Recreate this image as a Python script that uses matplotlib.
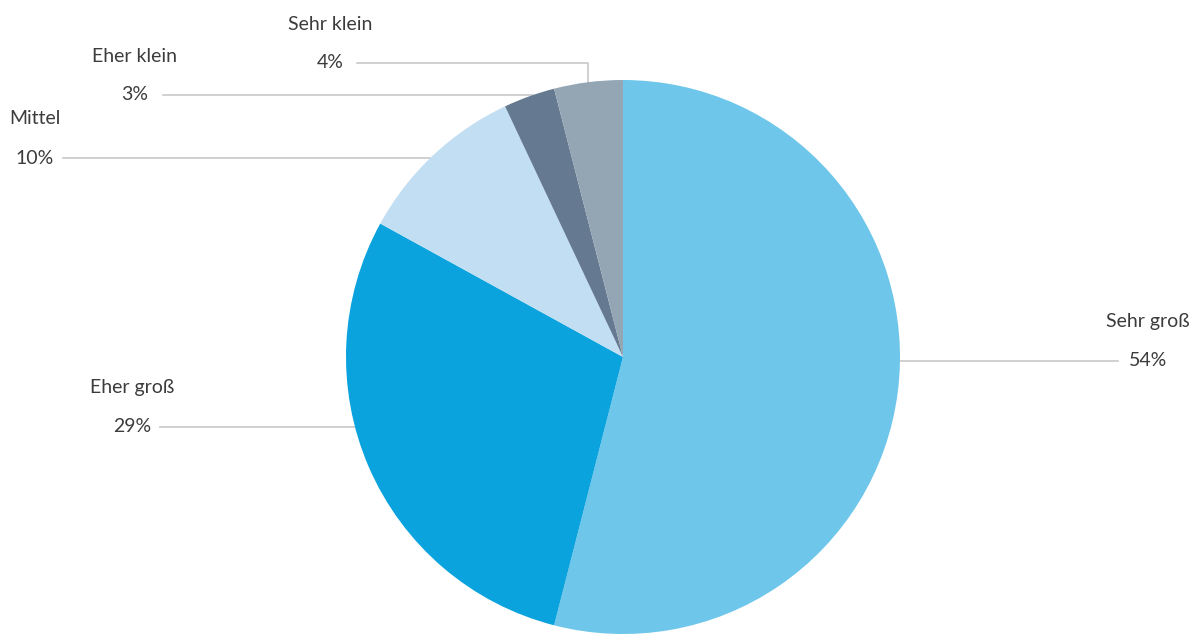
import numpy as np
import matplotlib.pyplot as plt

# Anteile der Antworten
categories = ['Sehr groß', 'Eher groß', 'Mittel', 'Eher klein', 'Sehr klein']
values = [54, 29, 10, 3, 4]
colors = ['#6ec6ea', '#0ba3dd', '#c1def3', '#657a90', '#94a5b4']

W, H = 1199, 635
cx, cy, r = 623, H - 357, 277

plt.rcParams['font.family'] = ['Lato', 'DejaVu Sans']

fig = plt.figure(figsize=(W / 100, H / 100), dpi=100)
ax = fig.add_axes([0, 0, 1, 1])

wedges, _ = ax.pie(values, colors=colors, startangle=90, counterclock=False,
                   center=(cx, cy), radius=r, frame=True,
                   wedgeprops=dict(linewidth=0))
for w in wedges:
    w.set_zorder(3)

ax.set_aspect('auto')
ax.set_xlim(0, W)
ax.set_ylim(0, H)
ax.axis('off')

# Beschriftungen: (Mitte Text x, Text y, Linienanfang x)
label_pos = {
    'Sehr groß': (1148, 361, 1118),
    'Eher groß': (132, 427, 160),
    'Mittel': (35, 158, 63),
    'Eher klein': (135, 95, 163),
    'Sehr klein': (330, 63, 357),
}

line_kw = dict(color='#c8c8c8', lw=1.2, zorder=1)
txt_kw = dict(color='#3c3c3c', fontsize=14, ha='center', va='center')

for cat, val, w in zip(categories, values, wedges):
    tx, ty, lx = label_pos[cat]
    y = H - ty
    ax.text(tx, y, f'{val}%', **txt_kw)
    ax.text(tx, y + 39, cat, **txt_kw)
    if cat == 'Sehr klein':
        # Knick nach unten zur Mitte des Segments
        mid = np.deg2rad((w.theta1 + w.theta2) / 2)
        mx = cx + r * np.cos(mid)
        my = cy + np.sqrt(r ** 2 - (mx - cx) ** 2)
        ax.plot([lx, mx, mx], [y, y, my], **line_kw)
    else:
        dx = np.sqrt(r ** 2 - (y - cy) ** 2)
        ex = cx + dx if lx > cx else cx - dx
        ax.plot([lx, ex], [y, y], **line_kw)

fig.savefig('out.png', dpi=100)
